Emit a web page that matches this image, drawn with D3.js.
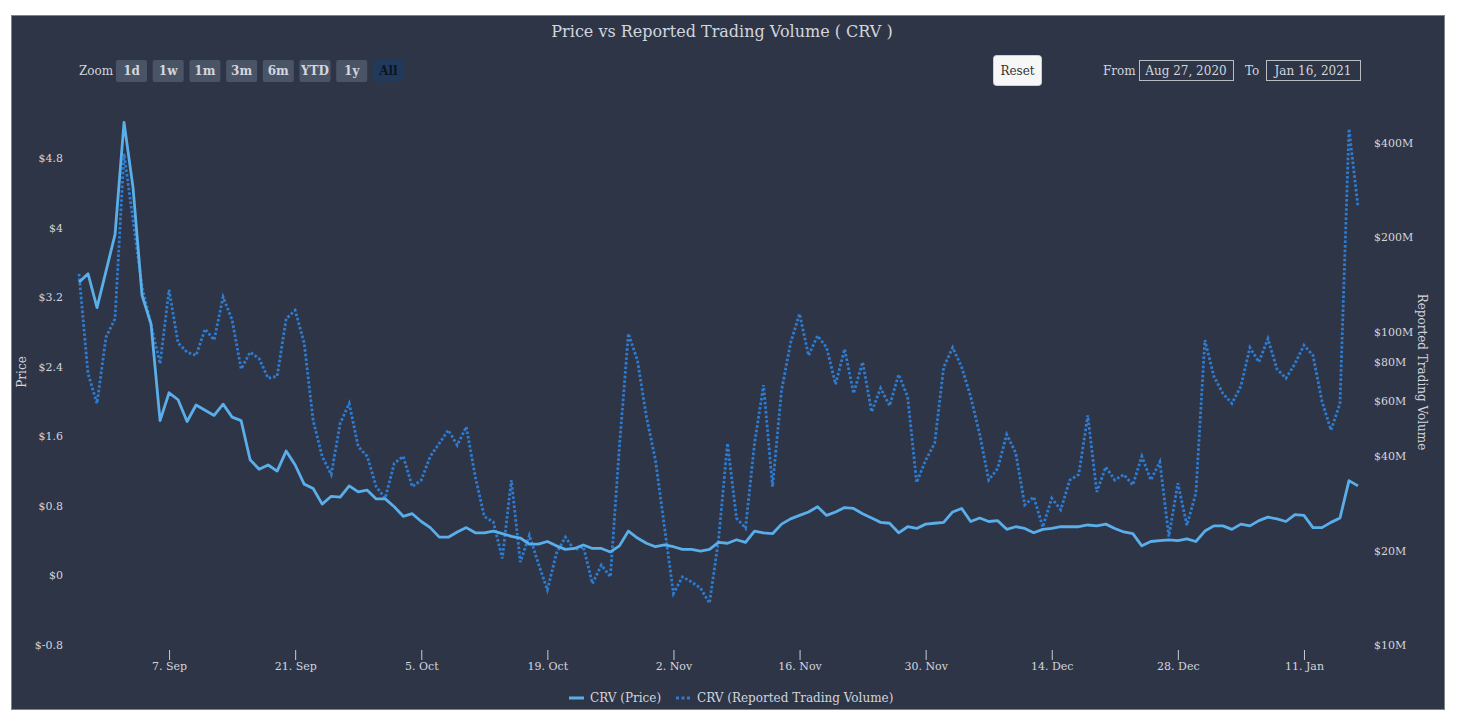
<!DOCTYPE html>
<html>
<head>
<meta charset="utf-8">
<script src="https://cdn.jsdelivr.net/npm/d3@7"></script>
<style>
  body { margin: 0; background: #fff; }
  svg { display: block; font-family: "DejaVu Serif", serif; }
</style>
</head>
<body>
<div id="chart"></div>
<script>
// daily series, first day 28 Aug 2020
const startDate = new Date(Date.UTC(2020, 7, 28));

const price = [
  3.37, 3.47, 3.08, 3.50, 3.92, 5.21, 4.46, 3.22, 2.89, 1.78,
  2.10, 2.02, 1.77, 1.96, 1.90, 1.84, 1.97, 1.82, 1.78, 1.33,
  1.22, 1.27, 1.20, 1.43, 1.27, 1.05, 1.00, 0.82, 0.91, 0.90,
  1.03, 0.96, 0.98, 0.88, 0.88, 0.79, 0.68, 0.71, 0.62, 0.55,
  0.44, 0.44, 0.50, 0.55, 0.49, 0.49, 0.51, 0.48, 0.45, 0.43,
  0.36, 0.36, 0.39, 0.34, 0.30, 0.31, 0.35, 0.31, 0.31, 0.27,
  0.34, 0.51, 0.43, 0.37, 0.33, 0.35, 0.33, 0.30, 0.30, 0.28,
  0.30, 0.38, 0.37, 0.41, 0.38, 0.51, 0.49, 0.48, 0.59, 0.65,
  0.69, 0.73, 0.79, 0.69, 0.73, 0.78, 0.77, 0.71, 0.66, 0.61,
  0.60, 0.49, 0.56, 0.54, 0.59, 0.60, 0.61, 0.73, 0.77, 0.62,
  0.66, 0.62, 0.63, 0.53, 0.56, 0.54, 0.49, 0.53, 0.54, 0.56,
  0.56, 0.56, 0.58, 0.57, 0.59, 0.54, 0.50, 0.48, 0.34, 0.39,
  0.40, 0.41, 0.40, 0.42, 0.39, 0.51, 0.57, 0.57, 0.53, 0.59,
  0.57, 0.63, 0.67, 0.65, 0.62, 0.70, 0.69, 0.55, 0.55, 0.61,
  0.66, 1.09, 1.03
];

// reported trading volume, millions of USD
const volume = [
  153, 73.5, 59, 96, 110, 370, 227, 139, 105, 79,
  136, 92, 86, 84, 102, 94, 129, 109, 76, 86,
  82, 71, 72, 110, 117, 92, 52, 40, 35, 51,
  59, 43, 40, 32, 29.4, 38, 40, 32, 33.6, 40,
  44, 48.5, 43.4, 49.7, 34.4, 25.7, 24.7, 18.9, 33.6, 18.4,
  22.4, 18.2, 15.0, 19.6, 22.1, 20.1, 20.6, 15.7, 18.0, 16.5,
  43, 98.6, 81, 53.5, 38.9, 23.8, 14.6, 16.5, 15.9, 15.2,
  13.6, 21.6, 44, 25.4, 23.6, 44, 67.5, 32, 65, 92,
  114, 84, 97, 89, 68, 88, 63.5, 80, 55.5, 66,
  58, 73, 62, 33, 38.9, 44, 77, 89, 77, 62,
  47, 33.6, 36.6, 47, 41, 28, 29.7, 23.8, 29.4, 27,
  33.6, 35, 54, 30.8, 37, 33.6, 35, 32.4, 40, 33.6,
  38.4, 22.2, 32.8, 24.1, 30.5, 94, 72, 63.5, 59, 67,
  89, 80, 95, 76, 71, 79, 90.5, 84, 60, 48.5,
  59, 444, 250
];

const priceTicks = [-0.8, 0, 0.8, 1.6, 2.4, 3.2, 4, 4.8];
const volumeTicks = [10, 20, 40, 60, 80, 100, 200, 400];
const zoomButtons = ["1d", "1w", "1m", "3m", "6m", "YTD", "1y", "All"];
const seriesNames = ["CRV (Price)", "CRV (Reported Trading Volume)"];

const W = 1461, H = 721;
const bg = "#2e3547", txt = "#d3d6dd";
const priceColor = "#5aaeea", volColor = "#2d7cd2";

const dates = price.map((d, i) => d3.utcDay.offset(startDate, i));

const svg = d3.select("#chart").append("svg")
    .attr("width", W)
    .attr("height", H);

// chart panel
svg.append("rect")
    .attr("x", 11.5).attr("y", 15.5)
    .attr("width", 1433).attr("height", 694)
    .attr("fill", bg)
    .attr("stroke", "#7d828c");

// Scales
const x = d3.scaleUtc()
    .domain([dates[0], dates[dates.length - 1]])
    .range([79, 1358]);

const yPrice = d3.scaleLinear()
    .domain([-0.8, 4.8])
    .range([645, 158]);

const yVol = d3.scaleLog()
    .domain([10, 400])
    .range([645, 143]);

// Title
svg.append("text")
    .attr("x", 722).attr("y", 37)
    .attr("text-anchor", "middle")
    .attr("fill", txt)
    .style("font-size", "16px")
    .text("Price vs Reported Trading Volume ( CRV )");

// Zoom buttons
svg.append("text")
    .attr("x", 79).attr("y", 75)
    .attr("fill", txt)
    .style("font-size", "12px")
    .text("Zoom");

const btn = svg.append("g").selectAll("g")
    .data(zoomButtons)
    .join("g")
    .attr("transform", (d, i) => `translate(${116 + i * 36.7},60)`);

btn.append("rect")
    .attr("width", 31).attr("height", 22).attr("rx", 2)
    .attr("fill", d => d === "All" ? "#213a5c" : "#4a5467");

btn.append("text")
    .attr("x", 15.5).attr("y", 15)
    .attr("text-anchor", "middle")
    .attr("fill", d => d === "All" ? "#0d1420" : txt)
    .style("font-size", "12px")
    .style("font-weight", "bold")
    .text(d => d);

// Reset button
svg.append("rect")
    .attr("x", 993.5).attr("y", 55.5)
    .attr("width", 48).attr("height", 30).attr("rx", 3)
    .attr("fill", "#f7f7f7")
    .attr("stroke", "#cfcfcf");
svg.append("text")
    .attr("x", 1017.5).attr("y", 75)
    .attr("text-anchor", "middle")
    .attr("fill", "#333")
    .style("font-size", "12px")
    .text("Reset");

// Range inputs
const fmtInput = d3.utcFormat("%b %-d, %Y");
const inputs = [
    {label: "From", lx: 1103, bx: 1139, date: d3.utcDay.offset(startDate, -1)},
    {label: "To", lx: 1245, bx: 1266, date: d3.utcDay.offset(startDate, 141)}
];
inputs.forEach(o => {
    svg.append("text")
        .attr("x", o.lx).attr("y", 75)
        .attr("fill", txt)
        .style("font-size", "12px")
        .text(o.label);
    svg.append("rect")
        .attr("x", o.bx + 0.5).attr("y", 60.5)
        .attr("width", 94).attr("height", 20)
        .attr("fill", "none")
        .attr("stroke", "#b9bcc4");
    svg.append("text")
        .attr("x", o.bx + 47).attr("y", 75)
        .attr("text-anchor", "middle")
        .attr("fill", txt)
        .style("font-size", "12px")
        .text(fmtInput(o.date));
});

// Axes
const xTicks = d3.utcMonday.range(new Date(Date.UTC(2020, 8, 7)), dates[dates.length - 1])
    .filter((d, i) => i % 2 === 0);

const xAxis = svg.append("g")
    .attr("transform", "translate(0,650)")
    .call(d3.axisBottom(x)
        .tickValues(xTicks)
        .tickSize(10)
        .tickPadding(2)
        .tickFormat(d3.utcFormat("%-d. %b")));

const yAxisL = svg.append("g")
    .attr("transform", "translate(66,0)")
    .call(d3.axisLeft(yPrice)
        .tickValues(priceTicks)
        .tickSize(0)
        .tickPadding(3)
        .tickFormat(d => "$" + d));

const yAxisR = svg.append("g")
    .attr("transform", "translate(1374,0)")
    .call(d3.axisRight(yVol)
        .tickValues(volumeTicks)
        .tickSize(0)
        .tickPadding(0)
        .tickFormat(d => "$" + d + "M"));

[xAxis, yAxisL, yAxisR].forEach(g => {
    g.select(".domain").remove();
    g.selectAll("line").attr("stroke", "#c8ccd4");
    g.selectAll("text")
        .attr("fill", txt)
        .style("font-family", "DejaVu Serif, serif")
        .style("font-size", "11px");
});

svg.append("text")
    .attr("transform", "translate(26,372) rotate(-90)")
    .attr("text-anchor", "middle")
    .attr("fill", txt)
    .style("font-size", "12px")
    .text("Price");

svg.append("text")
    .attr("transform", "translate(1418,372) rotate(90)")
    .attr("text-anchor", "middle")
    .attr("fill", txt)
    .style("font-size", "12px")
    .text("Reported Trading Volume");

// Lines
const volLine = d3.line()
    .x((d, i) => x(dates[i]))
    .y(d => yVol(d));

const priceLine = d3.line()
    .x((d, i) => x(dates[i]))
    .y(d => yPrice(d));

svg.append("path")
    .datum(volume)
    .attr("d", volLine)
    .attr("fill", "none")
    .attr("stroke", volColor)
    .attr("stroke-width", 2.8)
    .attr("stroke-dasharray", "2.6,2");

svg.append("path")
    .datum(price)
    .attr("d", priceLine)
    .attr("fill", "none")
    .attr("stroke", priceColor)
    .attr("stroke-width", 2.8)
    .attr("stroke-linejoin", "round");

// Legend
const legend = svg.append("g").attr("transform", "translate(0,698)");
const legendX = [569, 676];
seriesNames.forEach((name, i) => {
    legend.append("line")
        .attr("x1", legendX[i]).attr("x2", legendX[i] + 15)
        .attr("y1", 0).attr("y2", 0)
        .attr("stroke", i === 0 ? priceColor : volColor)
        .attr("stroke-width", 3)
        .attr("stroke-dasharray", i === 0 ? null : "3,2.5");
    legend.append("text")
        .attr("x", legendX[i] + 21).attr("y", 4)
        .attr("fill", txt)
        .style("font-size", "12px")
        .text(name);
});
</script>
</body>
</html>
